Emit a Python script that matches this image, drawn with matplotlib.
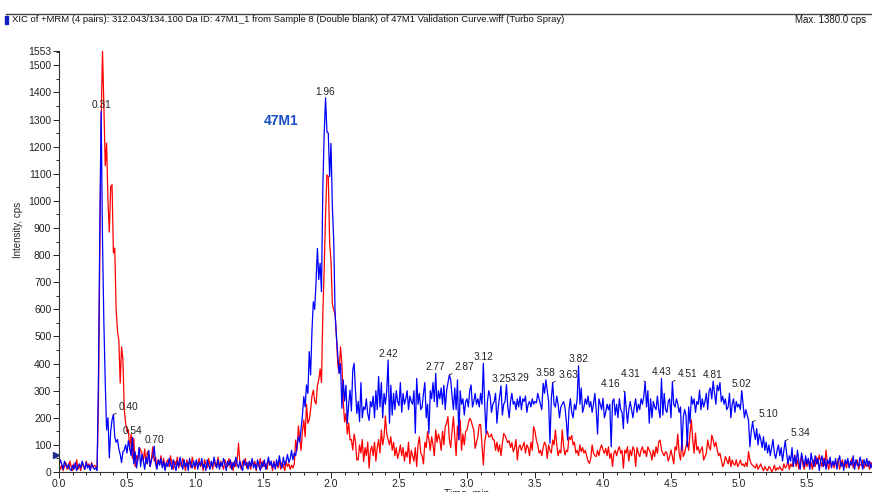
import numpy as np
import matplotlib
matplotlib.use("Agg")
import matplotlib.pyplot as plt
from matplotlib.patches import Rectangle
from matplotlib.lines import Line2D

plt.rcParams['font.family'] = ['Liberation Sans', 'DejaVu Sans']

# retention time grid, 0.01 min steps
time_ = np.round(np.arange(0, 6.0, 0.01), 2)

# XIC traces (cps), one row per 0.1 min
blue = [
    20, 45, 30, 10, 40, 25, 15, 30, 10, 5,
    25, 10, 35, 5, 20, 30, 15, 40, 25, 10,
    35, 15, 25, 5, 30, 20, 10, 15, 5, 350,
    900, 1330, 850, 550, 330, 155, 200, 52, 150, 192,
    212, 130, 110, 120, 85, 65, 35, 75, 80, 100,
    70, 115, 90, 60, 128, 30, 75, 15, 50, 90,
    20, 65, 40, 10, 55, 30, 80, 20, 45, 60,
    95, 30, 10, 45, 25, 50, 15, 40, 5, 35,
    20, 50, 30, 10, 45, 25, 5, 40, 20, 55,
    30, 10, 45, 20, 35, 5, 50, 25, 15, 40,
    20, 45, 10, 35, 25, 50, 15, 30, 5, 45,
    25, 10, 40, 20, 55, 30, 15, 45, 10, 35,
    20, 50, 30, 5, 40, 25, 45, 10, 35, 20,
    55, 30, 15, 40, 20, 5, 45, 25, 35, 10,
    40, 20, 50, 15, 30, 10, 45, 25, 5, 35,
    20, 45, 10, 30, 55, 25, 40, 15, 35, 10,
    45, 20, 60, 30, 15, 55, 25, 40, 65, 35,
    50, 80, 45, 70, 60, 95, 130, 110, 160, 210,
    278, 240, 321, 290, 444, 358, 520, 628, 600, 700,
    825, 710, 770, 665, 1052, 1250, 1380, 1255, 1250, 1090,
    1212, 979, 856, 585, 499, 430, 364, 400, 235, 340,
    262, 320, 180, 250, 302, 225, 376, 401, 300, 216,
    260, 186, 330, 200, 240, 230, 270, 215, 190, 260,
    240, 280, 200, 300, 230, 352, 240, 330, 200, 290,
    250, 300, 413, 180, 320, 210, 290, 230, 300, 260,
    245, 330, 220, 290, 250, 270, 300, 230, 280, 260,
    250, 300, 143, 345, 250, 290, 230, 240, 290, 330,
    200, 250, 143, 300, 270, 330, 260, 364, 240, 300,
    270, 310, 250, 320, 230, 300, 330, 358, 340, 280,
    230, 310, 230, 340, 118, 300, 250, 270, 210, 260,
    270, 240, 300, 321, 240, 260, 290, 250, 270, 240,
    290, 250, 401, 250, 143, 260, 300, 280, 220, 250,
    260, 290, 180, 240, 280, 318, 210, 250, 260, 322,
    240, 200, 260, 290, 250, 260, 230, 270, 240, 280,
    230, 270, 260, 280, 220, 250, 260, 240, 270, 250,
    260, 255, 290, 270, 250, 230, 327, 290, 340, 300,
    260, 106, 270, 330, 250, 240, 280, 250, 200, 240,
    250, 260, 240, 190, 118, 230, 270, 220, 200, 250,
    230, 270, 392, 250, 310, 220, 240, 270, 250, 280,
    240, 260, 220, 250, 290, 230, 140, 270, 250, 230,
    272, 200, 220, 250, 230, 250, 93, 260, 270, 210,
    250, 200, 270, 230, 220, 160, 296, 240, 180, 230,
    260, 230, 200, 240, 270, 220, 250, 230, 270, 250,
    280, 333, 240, 300, 180, 270, 200, 260, 240, 230,
    280, 230, 200, 345, 210, 290, 230, 220, 260, 270,
    200, 333, 250, 240, 270, 250, 220, 240, 81, 200,
    230, 210, 93, 240, 180, 278, 250, 270, 220, 260,
    250, 302, 230, 270, 240, 260, 290, 230, 300, 310,
    270, 335, 290, 250, 320, 300, 330, 260, 280, 250,
    270, 230, 240, 290, 200, 250, 270, 220, 260, 240,
    250, 230, 300, 250, 200, 230, 210, 190, 93, 150,
    185, 150, 120, 160, 100, 140, 120, 90, 130, 80,
    110, 70, 100, 60, 90, 120, 70, 50, 80, 100,
    60, 90, 40, 80, 115, 70, 30, 60, 40, 90,
    20, 60, 30, 80, 40, 10, 70, 45, 20, 60,
    30, 50, 10, 70, 40, 20, 60, 30, 50, 5,
    40, 60, 20, 50, 10, 45, 30, 55, 15, 40,
    25, 50, 10, 40, 60, 20, 35, 5, 45, 30,
    50, 15, 40, 25, 60, 10, 45, 30, 20, 55,
    35, 10, 45, 25, 50, 20, 40, 15, 30, 25,
]

red = [
    30, 10, 25, 5, 20, 35, 10, 15, 40, 20,
    5, 30, 15, 45, 10, 25, 5, 35, 20, 10,
    40, 20, 30, 10, 35, 15, 25, 20, 15, 250,
    800, 1300, 1553, 1350, 1130, 1213, 1000, 885, 1052, 1060,
    808, 826, 600, 520, 487, 328, 462, 414, 229, 180,
    149, 155, 81, 140, 50, 124, 20, 60, 44, 90,
    81, 70, 40, 85, 30, 75, 60, 20, 50, 93,
    40, 55, 15, 45, 30, 60, 20, 50, 10, 35,
    45, 20, 60, 30, 10, 40, 25, 55, 15, 35,
    20, 50, 30, 5, 45, 25, 40, 15, 55, 30,
    10, 40, 25, 50, 20, 35, 5, 45, 30, 15,
    50, 25, 35, 10, 45, 20, 30, 55, 15, 40,
    25, 10, 45, 30, 20, 50, 15, 35, 5, 40,
    20, 45, 106, 30, 10, 40, 25, 50, 15, 35,
    30, 10, 45, 25, 40, 5, 35, 20, 50, 15,
    40, 20, 30, 10, 45, 25, 35, 5, 40, 20,
    30, 15, 45, 10, 35, 25, 5, 40, 20, 30,
    10, 25, 15, 30, 118, 80, 170, 120, 80, 150,
    192, 130, 250, 180, 192, 230, 280, 302, 262, 250,
    320, 340, 380, 330, 585, 750, 950, 1096, 1090, 844,
    780, 620, 598, 585, 500, 395, 364, 462, 400, 260,
    185, 216, 140, 180, 118, 120, 81, 140, 110, 44,
    45, 100, 70, 120, 38, 90, 60, 110, 14, 80,
    95, 60, 110, 40, 90, 120, 70, 155, 100, 130,
    207, 140, 120, 100, 130, 80, 110, 60, 90, 50,
    70, 100, 60, 90, 40, 75, 55, 110, 30, 80,
    60, 40, 90, 20, 100, 130, 70, 60, 30, 110,
    90, 149, 120, 80, 130, 100, 60, 155, 110, 140,
    120, 80, 150, 100, 167, 180, 204, 120, 90, 150,
    204, 130, 60, 170, 120, 192, 80, 140, 100, 150,
    155, 180, 198, 190, 170, 155, 87, 110, 130, 175,
    175, 100, 26, 110, 140, 150, 130, 130, 140, 120,
    118, 80, 110, 75, 100, 60, 105, 142, 135, 122,
    108, 115, 90, 108, 75, 88, 120, 44, 90, 100,
    80, 95, 110, 70, 100, 90, 60, 110, 80, 167,
    150, 118, 100, 70, 80, 60, 90, 110, 100, 50,
    100, 80, 70, 118, 100, 155, 100, 60, 80, 70,
    155, 100, 63, 80, 75, 130, 120, 135, 100, 110,
    70, 80, 60, 100, 75, 90, 70, 80, 60, 40,
    32, 50, 100, 70, 60, 57, 80, 60, 87, 100,
    81, 69, 87, 60, 93, 50, 69, 20, 69, 80,
    60, 81, 93, 69, 80, 14, 81, 69, 93, 40,
    81, 60, 93, 81, 20, 90, 69, 57, 81, 93,
    69, 80, 57, 93, 81, 69, 44, 81, 57, 93,
    69, 112, 118, 81, 69, 60, 75, 69, 40, 57,
    81, 57, 30, 93, 81, 140, 69, 44, 118, 57,
    69, 93, 118, 80, 143, 192, 118, 69, 143, 81,
    93, 69, 81, 93, 44, 57, 69, 118, 93, 81,
    136, 118, 93, 110, 81, 60, 69, 44, 20, 30,
    57, 44, 30, 57, 20, 44, 30, 25, 45, 20,
    30, 44, 25, 30, 20, 35, 20, 75, 44, 30,
    25, 20, 15, 30, 10, 20, 30, 15, 5, 20,
    10, 5, 20, 15, 0, 10, 25, 5, 15, 10,
    20, 10, 5, 30, 15, 20, 44, 10, 30, 20,
    40, 63, 20, 45, 10, 35, 60, 25, 10, 40,
    20, 50, 15, 35, 10, 45, 20, 55, 30, 63,
    40, 20, 50, 25, 81, 30, 10, 45, 20, 35,
    15, 40, 25, 50, 10, 30, 45, 20, 35, 15,
    40, 20, 30, 50, 15, 35, 25, 45, 10, 30,
    25, 45, 15, 30, 20, 40, 10, 35, 25, 30,
]

# labelled apex times on the blue trace
peaks_centered = [0.31, 0.54, 0.70, 1.96, 2.42, 2.77, 3.12, 3.25,
                  3.58, 3.82, 4.43, 4.81, 5.02]
peaks_right = [0.40, 2.87, 3.63, 4.51, 5.10, 5.34]
peaks_tight = [3.29]
peaks_left = [4.16, 4.31]

y_ticks = [0, 100, 200, 300, 400, 500, 600, 700, 800, 900, 1000,
           1100, 1200, 1300, 1400, 1500, 1553]
x_ticks = [0.0, 0.5, 1.0, 1.5, 2.0, 2.5, 3.0, 3.5, 4.0, 4.5, 5.0, 5.5]

blue = np.array(blue, dtype=float)
red = np.array(red, dtype=float)

fig = plt.figure(figsize=(8.72, 4.92), dpi=100)
ax = fig.add_axes([59/872, 20/492, 1 - 59/872, 421/492])

ax.plot(time_, red, color='#ff0000', lw=0.9)
ax.plot(time_, blue, color='#0000ff', lw=0.9)

def apex(t):
    i = int(round(t * 100))
    return time_[i], blue[i]

txt_kw = dict(fontsize=7.3, color='#222222', textcoords='offset points')
leader = dict(arrowstyle='-', color='#222222', lw=0.6, shrinkA=0, shrinkB=0)
for t in peaks_centered:
    x, y = apex(t)
    ax.annotate('%.2f' % t, (x, y), xytext=(0, 1), ha='center', va='bottom', **txt_kw)
for t in peaks_right:
    x, y = apex(t)
    ax.annotate('%.2f' % t, (x, y), xytext=(4, 2), ha='left', va='bottom',
                arrowprops=leader, **txt_kw)
for t in peaks_tight:
    x, y = apex(t)
    ax.annotate('%.2f' % t, (x, y), xytext=(2.5, 1), ha='left', va='bottom', **txt_kw)
for t in peaks_left:
    x, y = apex(t)
    ax.annotate('%.2f' % t, (x, y), xytext=(-3, 2), ha='right', va='bottom',
                arrowprops=leader, **txt_kw)

ax.text(1.63, 1295, '47M1', color='#1a4fc4', fontsize=10, fontweight='bold',
        ha='center', va='center')

# threshold marker on the y axis
ax.plot([-0.025], [62], marker='>', color='#1c2d8a', ms=5, clip_on=False)

ax.set_xlim(0, (872 - 59) / 136)
ax.set_ylim(0, 1553)
ax.set_xticks(x_ticks)
ax.set_xticklabels(['%.1f' % v for v in x_ticks])
ax.set_xticks(np.arange(0, 6.0, 0.1), minor=True)
ax.set_yticks(y_ticks)
ax.set_yticks(np.arange(50, 1553, 100), minor=True)
ax.tick_params(labelsize=7.5, colors='#222222', length=4, width=0.7, pad=1.5)
ax.tick_params(axis='x', pad=0.8)
ax.tick_params(which='minor', length=2, width=0.6)
for s in ['top', 'right']:
    ax.spines[s].set_visible(False)
for s in ['left', 'bottom']:
    ax.spines[s].set_linewidth(0.8)
    ax.spines[s].set_color('#333333')

fig.text(18/872, 262/492, 'Intensity, cps', rotation=90, fontsize=7,
         ha='center', va='center', color='#222222')
fig.text(467/872, -0.003, 'Time, min', fontsize=7.5, ha='center', va='center',
         color='#222222')

# header strip
fig.add_artist(Line2D([6/872, 1], [1 - 14/492, 1 - 14/492], color='#444444', lw=1.0))
fig.add_artist(Rectangle((5/872, 1 - 24/492), 3/872, 8/492, color='#1020c0'))
fig.text(12/872, 1 - 20/492, 'XIC of +MRM (4 pairs): 312.043/134.100 Da ID: 47M1_1 '
         'from Sample 8 (Double blank) of 47M1 Validation Curve.wiff (Turbo Spray)',
         fontsize=6.8, ha='left', va='center', color='#111111')
fig.text(795/872, 1 - 20/492, 'Max. 1380.0 cps', fontsize=7.0, ha='left',
         va='center', color='#111111')

fig.savefig('out.png', dpi=100)
